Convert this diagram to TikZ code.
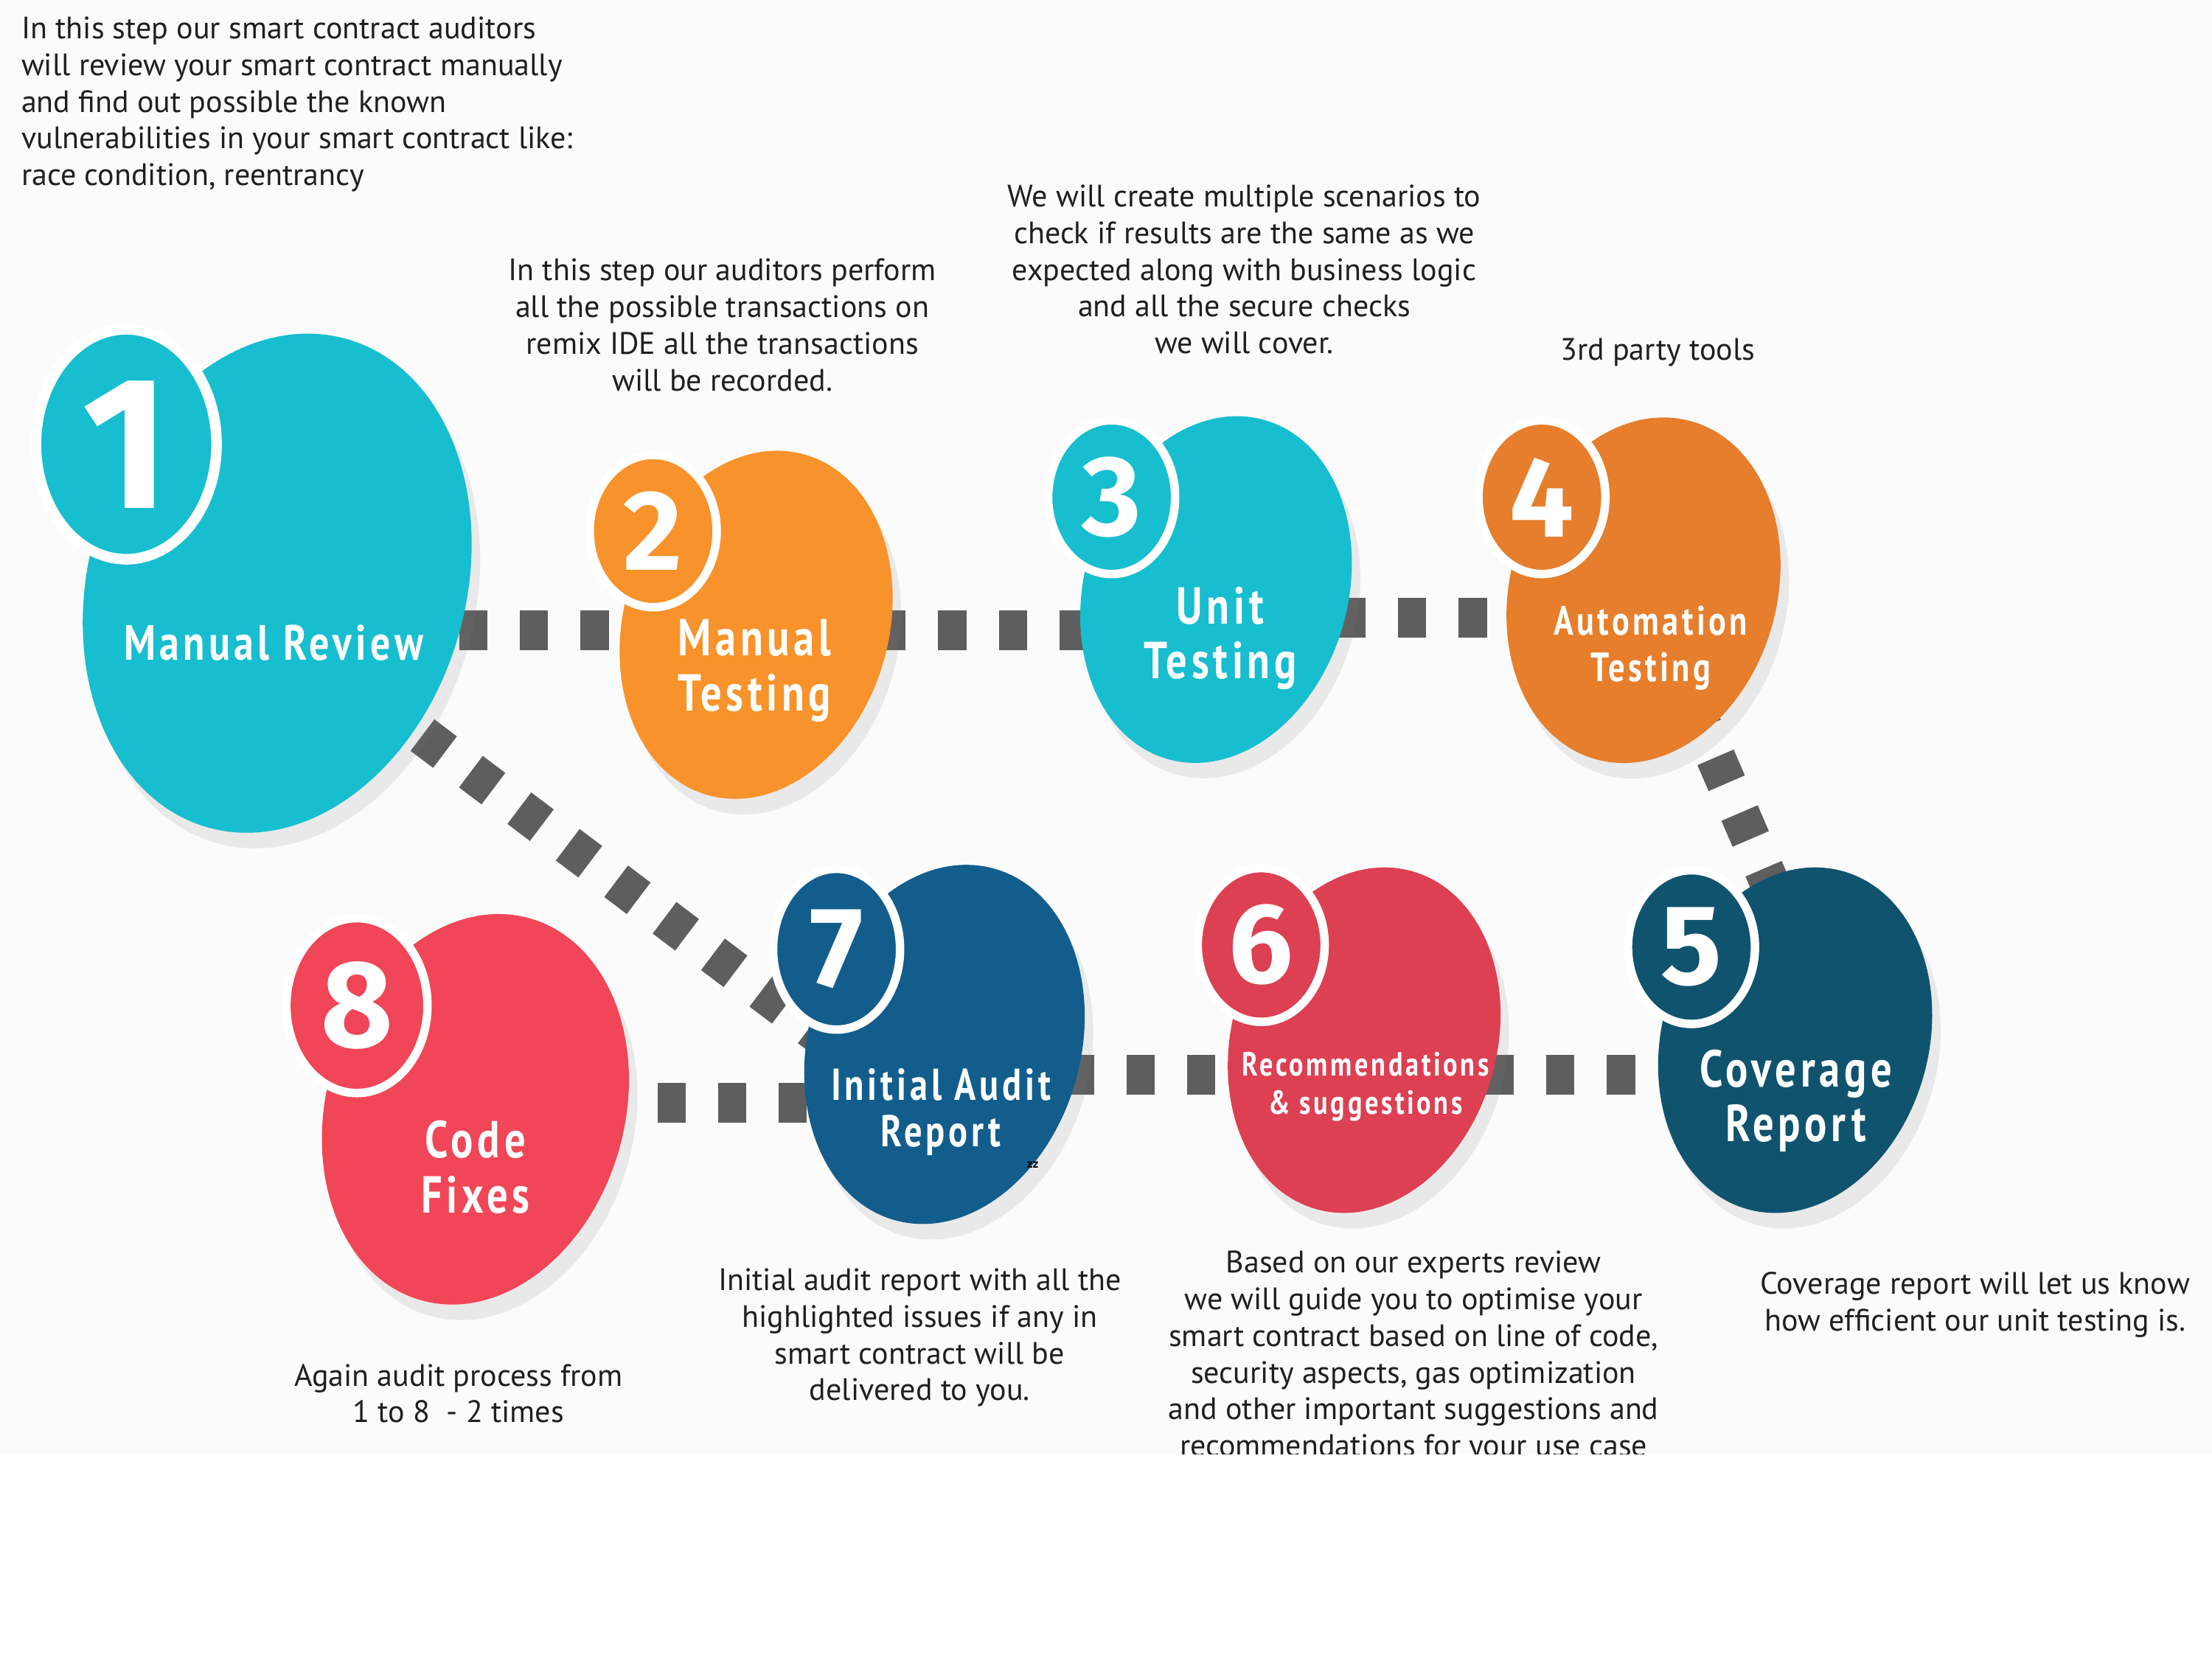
\documentclass[tikz,border=0pt]{standalone}
\usepackage{fontspec}
\setmainfont{PT Sans}
\newfontfamily\lblfont{PT Sans}[FakeStretch=0.8,LetterSpace=8]
\newfontfamily\numfont{Fira Sans}
\usetikzlibrary{shapes.geometric,shadows,backgrounds}

\definecolor{tealc}{HTML}{17BECF}
\definecolor{orangea}{HTML}{F8922A}
\definecolor{orangeb}{HTML}{E67E2C}
\definecolor{petrol}{HTML}{10536E}
\definecolor{rosered}{HTML}{DC4052}
\definecolor{navyblue}{HTML}{125D8C}
\definecolor{coral}{HTML}{F04657}
\definecolor{linkgray}{HTML}{5E5E5E}

\begin{document}
\begin{tikzpicture}[
  blob/.style={ellipse, rotate=-16, inner sep=0pt, drop shadow={opacity=0.14, shadow xshift=0.12cm, shadow yshift=-0.22cm}},
  badge/.style={ellipse, draw=white, line width=0.12cm, inner sep=0pt, text=white, font=\numfont\bfseries\fontsize{46}{46}\selectfont},
  lbl/.style={text=white, align=center},
  note/.style={align=center, text=black!88, font=\fontsize{12.5}{14.8}\selectfont},
  link/.style={draw=linkgray, line width=0.56cm, dash pattern=on 0.4cm off 0.46cm}
]
\useasboundingbox (0,0) rectangle (31.36,-23.62);
\begin{scope}[on background layer]
\fill[black!1.5] (0,0) rectangle (31.36,-20.62);
\end{scope}

% the eight steps
\node[blob, fill=tealc, minimum width=5.35cm, minimum height=7.20cm] (m1) at (3.93,-8.27) {};
\node[blob, fill=orangea, minimum width=3.76cm, minimum height=5.02cm] (m2) at (10.72,-8.86) {};
\node[blob, fill=tealc, minimum width=3.74cm, minimum height=5.00cm] (m3) at (17.24,-8.36) {};
\node[blob, fill=orangeb, minimum width=3.78cm, minimum height=4.98cm] (m4) at (23.30,-8.37) {};
\node[blob, fill=petrol, minimum width=3.78cm, minimum height=4.98cm] (m5) at (25.45,-14.75) {};
\node[blob, fill=rosered, minimum width=3.76cm, minimum height=4.98cm] (m6) at (19.34,-14.75) {};
\node[blob, fill=navyblue, minimum width=3.86cm, minimum height=5.18cm] (m7) at (13.39,-14.81) {};
\node[blob, fill=coral, minimum width=4.23cm, minimum height=5.63cm] (m8) at (6.74,-15.73) {};

% number badges
\node[badge, fill=tealc, line width=0.15cm, minimum width=2.56cm, minimum height=3.26cm,
  font=\numfont\bfseries\fontsize{76}{76}\selectfont] (b1) at (1.79,-6.30) {1};
\node[badge, fill=orangea, minimum width=1.80cm, minimum height=2.16cm] (b2) at (9.26,-7.53) {2};
\node[badge, fill=tealc, minimum width=1.80cm, minimum height=2.18cm] (b3) at (15.76,-7.05) {3};
\node[badge, fill=orangeb, minimum width=1.80cm, minimum height=2.18cm] (b4) at (21.86,-7.05) {4};
\node[badge, fill=petrol, minimum width=1.80cm, minimum height=2.18cm] (b5) at (23.98,-13.43) {5};
\node[badge, fill=rosered, minimum width=1.80cm, minimum height=2.18cm] (b6) at (17.88,-13.40) {6};
\node[badge, fill=navyblue, minimum width=1.80cm, minimum height=2.28cm] (b7) at (11.86,-13.46) {7};
\node[badge, fill=coral, minimum width=2.00cm, minimum height=2.48cm,
  font=\numfont\bfseries\fontsize{50}{50}\selectfont] (b8) at (5.06,-14.26) {8};

% step names
\node[lbl, font=\lblfont\bfseries\fontsize{20}{22}\selectfont] (l1) at (3.88,-9.12) {Manual Review};
\node[lbl, font=\lblfont\bfseries\fontsize{21}{22.2}\selectfont] (l2) at (10.70,-9.51) {Manual\\Testing};
\node[lbl, font=\lblfont\bfseries\fontsize{21}{22.2}\selectfont] (l3) at (17.30,-9.05) {Unit\\Testing};
\node[lbl, font=\lblfont\bfseries\fontsize{16.5}{18.8}\selectfont] (l4) at (23.40,-9.19) {Automation\\Testing};
\node[lbl, font=\lblfont\bfseries\fontsize{21}{22.2}\selectfont] (l5) at (25.46,-15.61) {Coverage\\Report};
\node[lbl, font=\lblfont\bfseries\fontsize{13.5}{15.4}\selectfont] (l6) at (19.36,-15.41) {Recommendations\\\& suggestions};
\node[lbl, font=\lblfont\bfseries\fontsize{18}{18.8}\selectfont] (l7) at (13.34,-15.77) {Initial Audit\\Report};
\node[lbl, font=\lblfont\bfseries\fontsize{21}{22.2}\selectfont] (l8) at (6.74,-16.55) {Code\\Fixes};
\node[font=\bfseries\fontsize{5}{5}\selectfont] (zz) at (14.64,-16.52) {zz};

% descriptions
\node[note, align=left, anchor=west] (t1) at (0.18,-1.48) {In this step our smart contract auditors\\
  will review your smart contract manually\\and find out possible the known\\
  vulnerabilities in your smart contract like:\\race condition, reentrancy};
\node[note] (t2) at (10.24,-4.61) {In this step our auditors perform\\all the possible transactions on\\
  remix IDE all the transactions\\will be recorded.};
\node[note] (t3) at (17.64,-3.82) {We will create multiple scenarios to\\check if results are the same as we\\
  expected along with business logic\\and all the secure checks\\we will cover.};
\node[note] (t4) at (23.50,-5.00) {3rd party tools};
\node[note] (t5) at (13.04,-18.97) {Initial audit report with all the\\highlighted issues if any in\\
  smart contract will be\\delivered to you.};
\begin{scope}
\clip (0,0) rectangle (31.36,-20.62);
\node[note] (t6) at (20.04,-19.24) {Based on our experts review\\we will guide you to optimise your\\
  smart contract based on line of code,\\security aspects, gas optimization\\
  and other important suggestions and\\recommendations for your use case};
\end{scope}
\node[note] (t7) at (28.00,-18.50) {Coverage report will let us know\\how efficient our unit testing is.};
\node[note] (t8) at (6.50,-19.76) {Again audit process from\\1 to 8~~- 2 times};

% dotted paths
\begin{scope}[on background layer]
\draw[link] ([yshift=-0.08cm]m2.center -| m1.center) -- ([yshift=-0.08cm]m2.center);
\draw[link] ([yshift=-0.08cm]m2.center) -- ([yshift=-0.08cm]m2.center -| m3.center);
\draw[link] ([yshift=-0.4cm]m3.center) -- ([yshift=-0.4cm]m3.center -| m4.center);
\draw[link] (m4.center) -- ([xshift=0.6cm]m5.center);
\draw[link] ([yshift=-0.49cm]m6.center) -- ([yshift=-0.49cm]m6.center -| m5.center);
\draw[link] ([yshift=-0.43cm]m7.center) -- ([yshift=-0.43cm]m7.center -| m6.center);
\draw[link] ([yshift=0.09cm]m8.center) -- ([yshift=0.09cm]m8.center -| m7.center);
\draw[link] ([yshift=-0.6cm]m1.center) -- ([yshift=-1.2cm]m7.center);
\end{scope}
\end{tikzpicture}
\end{document}
